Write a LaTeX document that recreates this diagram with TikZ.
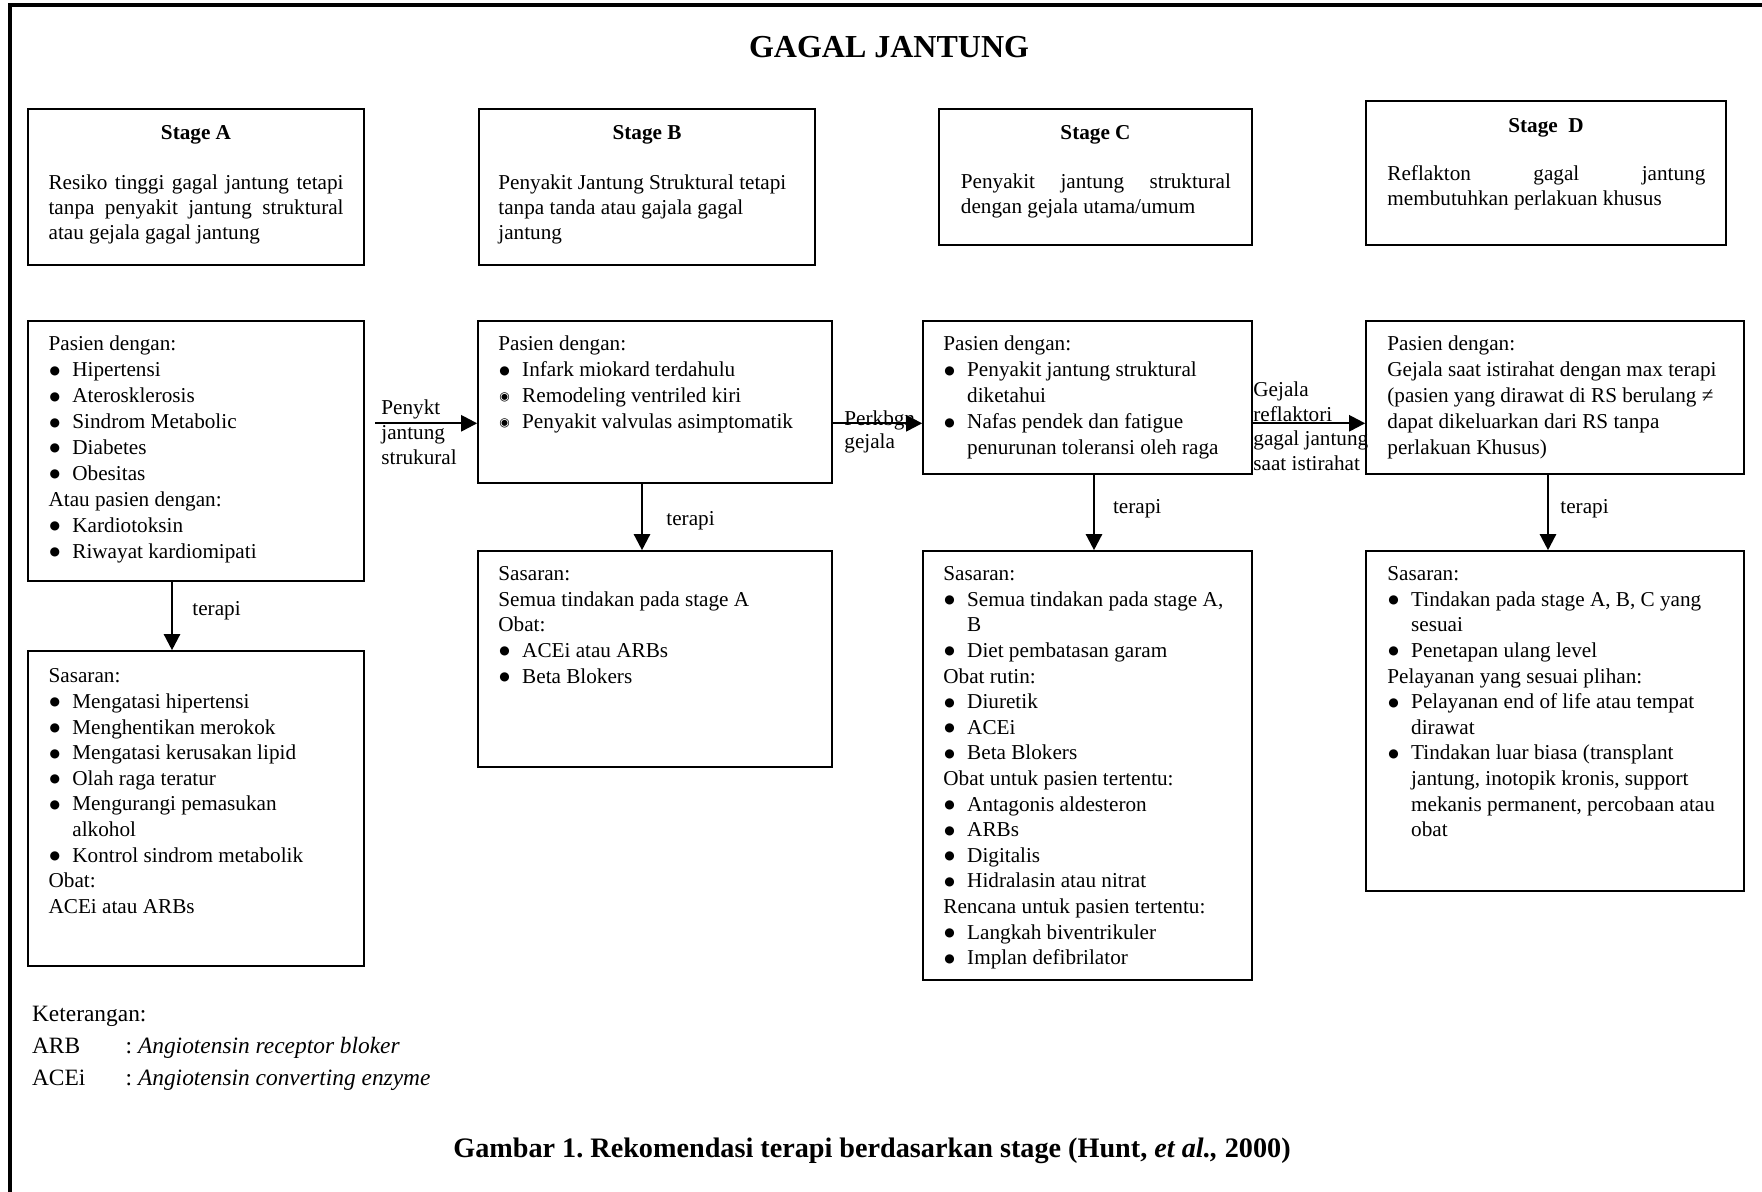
\documentclass[tikz,border=0pt]{standalone}
\usepackage{fontspec}
\usepackage{graphicx}
\setmainfont{Liberation Serif}
\newfontfamily\dejavu{DejaVu Sans}
\usetikzlibrary{arrows.meta,fit}
\newlength\bind
\setlength\bind{11.9pt}
\newcommand\bul{\raisebox{1.3pt}{\dejavu\fontsize{6pt}{6pt}\selectfont ●}}
\newcommand\fey{\raisebox{1.3pt}{\dejavu\fontsize{6pt}{6pt}\selectfont ◉}}
\newcommand\fl[1]{\noindent\strut#1}
\newcommand\li[1]{\par\noindent\strut#1}
\newcommand\bi[1]{\par\hangindent=\bind\hangafter=1\noindent\strut\hbox to\bind{\hskip0.5pt\bul\hfil}#1}
\newcommand\fe[1]{\par\hangindent=\bind\hangafter=1\noindent\strut\hbox to\bind{\hskip0.5pt\fey\hfil}#1}
\begin{document}
\frenchspacing
\begin{tikzpicture}[x=0.5pt,y=-0.5pt,
  panel/.style={draw, line width=0.8pt, inner sep=0pt},
  body/.style={anchor=north west, inner sep=0pt, text width=175pt, align=flush left,
    font=\fontsize{10.6pt}{#1}\selectfont},
  body/.default=12.8pt,
  stbody/.style={anchor=north west, inner sep=0pt, text width=#1, align=justify,
    font=\fontsize{10.6pt}{12.5pt}\selectfont},
  sttitle/.style={anchor=base, inner sep=0pt, font=\fontsize{10.6pt}{12.5pt}\selectfont\bfseries},
  lbl/.style={anchor=north west, inner sep=0pt, text width=70pt, align=flush left,
    font=\fontsize{10.6pt}{#1}\selectfont},
  tlbl/.style={anchor=base west, inner sep=0pt, font=\fontsize{10.6pt}{12.95pt}\selectfont},
  leg/.style={anchor=base west, inner sep=0pt, font=\fontsize{11.7pt}{14pt}\selectfont},
  arr/.style={-{Triangle[length=8pt,width=8pt]}, line width=1.2pt}
]
\useasboundingbox (0,0) rectangle (1762,1192);
\begin{scope}
  \clip (0,0) rectangle (1762,1192);
  \draw[line width=2pt] (9.5,5.3) rectangle (1800,1230);
\end{scope}

% title
\node[anchor=base, inner sep=0pt, font=\fontsize{16pt}{18pt}\selectfont\bfseries] (title) at (889,58) {GAGAL JANTUNG};

% stage boxes
\node[panel, fit={(28,109) (364,265)}] (SA) {};
\node[panel, fit={(479,109) (815,265)}] (SB) {};
\node[panel, fit={(939,109) (1252,245)}] (SC) {};
\node[panel, fit={(1366,101) (1726,245)}] (SD) {};

\node[sttitle] (SAt) at (196,140) {Stage A};
\node[sttitle] (SBt) at (647,140) {Stage B};
\node[sttitle] (SCt) at (1095.5,140) {Stage C};
\node[sttitle] (SDt) at (1546,132.3) {Stage\ \ D};

\node[stbody=147.5pt] (SAb) at (48.2,171.5) {\strut Resiko tinggi gagal jantung tetapi\linebreak tanpa penyakit jantung struktural\linebreak atau gejala gagal jantung\par};
\node[body=12.5pt] (SBb) at (498,171.5) {\fl{Penyakit Jantung Struktural tetapi}\li{tanpa tanda atau gajala gagal}\li{jantung}\par};
\node[stbody=135pt] (SCb) at (960.5,170.8) {\strut Penyakit jantung struktural\linebreak dengan gejala utama/umum\par};
\node[stbody=159pt] (SDb) at (1387,162.5) {\strut Reflakton gagal jantung\linebreak membutuhkan perlakuan khusus\par};

% patient boxes
\node[panel, fit={(28,321) (364,581)}] (A2) {};
\node[panel, fit={(478,321) (832,483)}] (B2) {};
\node[panel, fit={(923,321) (1252,474)}] (C2) {};
\node[panel, fit={(1366,321) (1744,474)}] (D2) {};

\node[body=12.95pt] (A2t) at (48.2,332.4) {\fl{Pasien dengan:}\bi{Hipertensi}\bi{Aterosklerosis}\bi{Sindrom Metabolic}\bi{Diabetes}\bi{Obesitas}\li{Atau pasien dengan:}\bi{Kardiotoksin}\bi{Riwayat kardiomipati}\par};
\node[body=12.95pt] (B2t) at (498,332.4) {\fl{Pasien dengan:}\bi{Infark miokard terdahulu}\fe{Remodeling ventriled kiri}\fe{Penyakit valvulas asimptomatik}\par};
\node[body=12.95pt] (C2t) at (943,332.4) {\fl{Pasien dengan:}\bi{Penyakit jantung struktural\newline diketahui}\bi{Nafas pendek dan fatigue\newline penurunan toleransi oleh raga}\par};
\node[body=12.95pt] (D2t) at (1387,332.4) {\fl{Pasien dengan:}\li{Gejala saat istirahat dengan max terapi}\li{(pasien yang dirawat di RS berulang ≠}\li{dapat dikeluarkan dari RS tanpa}\li{perlakuan Khusus)}\par};

% goal boxes
\node[panel, fit={(28,651) (364,966)}] (A3) {};
\node[panel, fit={(478,551) (832,767)}] (B3) {};
\node[panel, fit={(923,551) (1252,980)}] (C3) {};
\node[panel, fit={(1366,551) (1744,891)}] (D3) {};

\node[body] (A3t) at (48.2,664.5) {\fl{Sasaran:}\bi{Mengatasi hipertensi}\bi{Menghentikan merokok}\bi{Mengatasi kerusakan lipid}\bi{Olah raga teratur}\bi{Mengurangi pemasukan\newline alkohol}\bi{Kontrol sindrom metabolik}\li{Obat:}\li{ACEi atau ARBs}\par};
\node[body] (B3t) at (498,562.4) {\fl{Sasaran:}\li{Semua tindakan pada stage A}\li{Obat:}\bi{ACEi atau ARBs}\bi{Beta Blokers}\par};
\node[body] (C3t) at (943,562.4) {\fl{Sasaran:}\bi{Semua tindakan pada stage A,\newline B}\bi{Diet pembatasan garam}\li{Obat rutin:}\bi{Diuretik}\bi{ACEi}\bi{Beta Blokers}\li{Obat untuk pasien tertentu:}\bi{Antagonis aldesteron}\bi{ARBs}\bi{Digitalis}\bi{Hidralasin atau nitrat}\li{Rencana untuk pasien tertentu:}\bi{Langkah biventrikuler}\bi{Implan defibrilator}\par};
\node[body] (D3t) at (1387,562.4) {\fl{Sasaran:}\bi{Tindakan pada stage A, B, C yang\newline sesuai}\bi{Penetapan ulang level}\li{Pelayanan yang sesuai plihan:}\bi{Pelayanan end of life atau tempat\newline dirawat}\bi{Tindakan luar biasa (transplant\newline jantung, inotopik kronis, support\newline mekanis permanent, percobaan atau\newline obat}\par};

% horizontal connectors
\coordinate (yl) at (0,423.3);
\coordinate (abs) at (375,423.3);
\draw[arr] (abs) -- (abs -| B2.west);
\draw[arr] (B2.east |- yl) -- (C2.west |- yl);
\draw[arr] (C2.east |- yl) -- (D2.west |- yl);

\node[lbl=12.35pt] (l1) at (381,397.1) {\fl{Penykt}\li{jantung}\li{strukural}\par};
\node[lbl=11.2pt] (l2) at (844,409.8) {\fl{Perkbgn}\li{gejala}\par};
\node[lbl=12.2pt] (l3) at (1253,379.5) {\fl{Gejala}\li{reflaktori}\li{gagal jantung}\li{saat istirahat}\par};

% vertical connectors
\coordinate (xa) at (172,0);
\coordinate (xb) at (642,0);
\coordinate (xc) at (1094,0);
\coordinate (xd) at (1548,0);
\draw[arr] (A2.south -| xa) -- (A3.north -| xa);
\draw[arr] (B2.south -| xb) -- (B3.north -| xb);
\draw[arr] (C2.south -| xc) -- (C3.north -| xc);
\draw[arr] (D2.south -| xd) -- (D3.north -| xd);

\node[tlbl] (ta) at (192,615) {terapi};
\node[tlbl] (tb) at (666,525.5) {terapi};
\node[tlbl] (tc) at (1112.6,514) {terapi};
\node[tlbl] (td) at (1560,514) {terapi};

% legend
\node[leg] (k0) at (31.7,1021) {Keterangan:};
\node[leg] (k1) at (31.7,1053.5) {\makebox[46.8pt][l]{ARB}: \textit{Angiotensin receptor bloker}};
\node[leg] (k2) at (31.7,1085.5) {\makebox[46.8pt][l]{ACEi}: \textit{Angiotensin converting enzyme}};

% caption
\node[anchor=base, inner sep=0pt, font=\fontsize{14.1pt}{16pt}\selectfont\bfseries] (cap) at (872,1157) {Gambar 1. Rekomendasi terapi berdasarkan stage (Hunt, \textit{et al.,} 2000)};
\end{tikzpicture}
\end{document}
